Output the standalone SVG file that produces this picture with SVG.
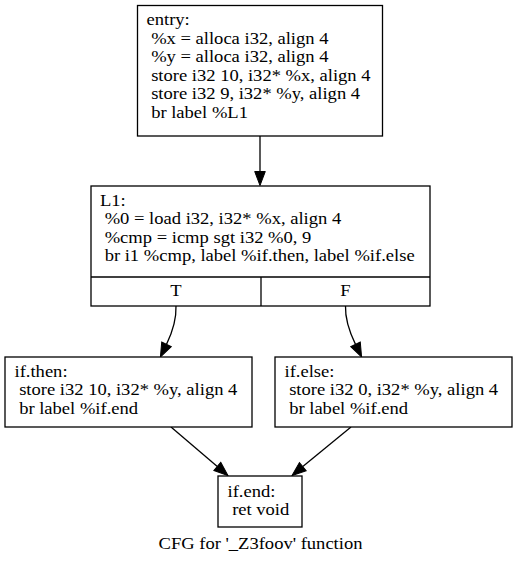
<svg xmlns="http://www.w3.org/2000/svg" width="517" height="564" viewBox="0 0 517 564">
<style>
.box{fill:#fff;stroke:#000;stroke-width:1.3}
.t{font-family:"Liberation Serif","Times New Roman",serif;font-size:16px;fill:#000}
.m{text-anchor:middle}
.e{fill:none;stroke:#000;stroke-width:1.3}
</style>
<defs>
<marker id="ah" markerUnits="userSpaceOnUse" viewBox="0 -6 15 12" markerWidth="15" markerHeight="12" refX="0" refY="0" orient="auto" overflow="visible">
<path d="M0,-5.3 L14,0 L0,5.3 Z" fill="#000" stroke="#000" stroke-width="1"/>
</marker>
</defs>
<rect width="517" height="564" fill="#fff"/>
<g id="connectors">
<path class="e" d="M260,136 L260,171.5" marker-end="url(#ah)"/>
<path class="e" d="M176,306 C176.5,320 172,333 166.5,344.4" marker-end="url(#ah)"/>
<path class="e" d="M345.5,306 C345,320 350,333 355.5,344.4" marker-end="url(#ah)"/>
<path class="e" d="M171,427 L217.3,466.4" marker-end="url(#ah)"/>
<path class="e" d="M351,427 L302.8,466.6" marker-end="url(#ah)"/>
</g>
<g id="entry">
<rect class="box" x="137.5" y="5.5" width="245" height="130.5"/>
<g class="t" transform="scale(1.16 1)">
<text x="126.29" y="25.5">entry:</text>
<text x="130.29" y="44">%x = alloca i32, align 4</text>
<text x="130.29" y="62.5">%y = alloca i32, align 4</text>
<text x="130.29" y="81">store i32 10, i32* %x, align 4</text>
<text x="130.29" y="99.5">store i32 9, i32* %y, align 4</text>
<text x="130.29" y="118">br label %L1</text>
</g>
</g>
<g id="L1">
<rect class="box" x="91" y="186" width="339" height="120"/>
<line class="e" x1="91" y1="277" x2="430" y2="277"/>
<line class="e" x1="261" y1="277" x2="261" y2="306"/>
<g class="t" transform="scale(1.16 1)">
<text x="86.21" y="206">L1:</text>
<text x="90.21" y="224.5">%0 = load i32, i32* %x, align 4</text>
<text x="90.21" y="243">%cmp = icmp sgt i32 %0, 9</text>
<text x="90.21" y="261.5">br i1 %cmp, label %if.then, label %if.else</text>
<text class="m" x="151.72" y="296.5">T</text>
<text class="m" x="297.84" y="296.5">F</text>
</g>
</g>
<g id="if.then">
<rect class="box" x="5" y="357" width="247" height="70"/>
<g class="t" transform="scale(1.16 1)">
<text x="12.5" y="377">if.then:</text>
<text x="16.5" y="395.5">store i32 10, i32* %y, align 4</text>
<text x="16.5" y="414">br label %if.end</text>
</g>
</g>
<g id="if.else">
<rect class="box" x="275" y="357" width="237" height="70"/>
<g class="t" transform="scale(1.16 1)">
<text x="245.26" y="377">if.else:</text>
<text x="249.26" y="395.5">store i32 0, i32* %y, align 4</text>
<text x="249.26" y="414">br label %if.end</text>
</g>
</g>
<g id="if.end">
<rect class="box" x="218" y="476" width="84" height="51"/>
<g class="t" transform="scale(1.16 1)">
<text x="196.12" y="497">if.end:</text>
<text x="200.12" y="515.5">ret void</text>
</g>
</g>
<g class="t" transform="scale(1.16 1)">
<text class="m" x="224.57" y="549">CFG for '_Z3foov' function</text>
</g>
</svg>
